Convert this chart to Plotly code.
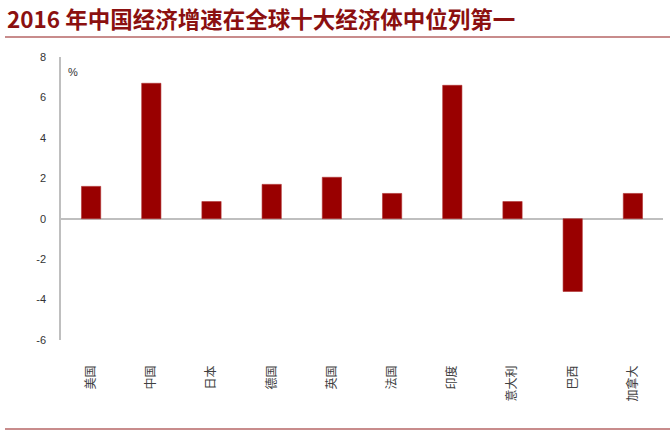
import plotly.graph_objects as go

categories = ["美国", "中国", "日本", "德国", "英国", "法国", "印度", "意大利", "巴西", "加拿大"]
growth = [1.6, 6.7, 0.85, 1.7, 2.05, 1.25, 6.6, 0.85, -3.6, 1.25]
y_ticks = [-6, -4, -2, 0, 2, 4, 6, 8]
title_text = "2016 年中国经济增速在全球十大经济体中位列第一"
unit_text = "%"

L, T = 61, 57
W, H = 602, 283

fig = go.Figure()
fig.add_trace(go.Bar(
    x=categories, y=growth,
    marker=dict(color="#990000", line=dict(color="#B03030", width=0.6)),
    width=0.32,
))

fig.update_layout(
    width=670, height=440,
    margin=dict(l=L, r=670 - L - W, t=T, b=440 - T - H, autoexpand=False),
    paper_bgcolor="white", plot_bgcolor="white",
    showlegend=False,
    font=dict(family="Noto Sans CJK SC, Arial, sans-serif", color="#333333"),
    xaxis=dict(
        type="category",
        showline=False, showgrid=False, ticks="",
        tickangle=-90,
        tickfont=dict(size=12, color="#404040", family="Noto Sans CJK SC"),
        ticklabelstandoff=22,
        range=[-0.5, 9.5],
    ),
    yaxis=dict(
        range=[-6, 8],
        tickvals=y_ticks,
        ticktext=[str(v) for v in y_ticks],
        showline=True, linecolor="#BFBFBF", linewidth=1.5,
        showgrid=False, ticks="",
        zeroline=True, zerolinecolor="#BFBFBF", zerolinewidth=1.5,
        tickfont=dict(size=11, color="#333333", family="Arial, Liberation Sans"),
        ticklabelstandoff=11,
    ),
    annotations=[
        dict(text="<b>" + title_text + "</b>", xref="paper", yref="paper",
             x=0, y=1, xanchor="left", yanchor="middle",
             xshift=-L + 5, yshift=T - 18,
             showarrow=False,
             font=dict(size=22.5, color="#8B1010", family="Noto Sans CJK SC")),
        dict(text=unit_text, xref="paper", yref="paper",
             x=0, y=1, xanchor="left", yanchor="middle",
             xshift=5, yshift=-15, showarrow=False,
             font=dict(size=11, color="#333333", family="Arial, Liberation Sans")),
    ],
)

fig.add_shape(type="line", xref="paper", yref="paper",
              x0=-(L - 5) / W, x1=1 + (670 - L - W) / W,
              y0=1 + (T - 37) / H, y1=1 + (T - 37) / H,
              line=dict(color="#C88C8C", width=2))
fig.add_shape(type="line", xref="paper", yref="paper",
              x0=-(L - 5) / W, x1=1 + (670 - L - W) / W,
              y0=-(429 - T - H) / H, y1=-(429 - T - H) / H,
              line=dict(color="#C88C8C", width=2))

fig.write_html("out.html", config={"displayModeBar": False},
               post_script="document.body.style.margin='0';")
